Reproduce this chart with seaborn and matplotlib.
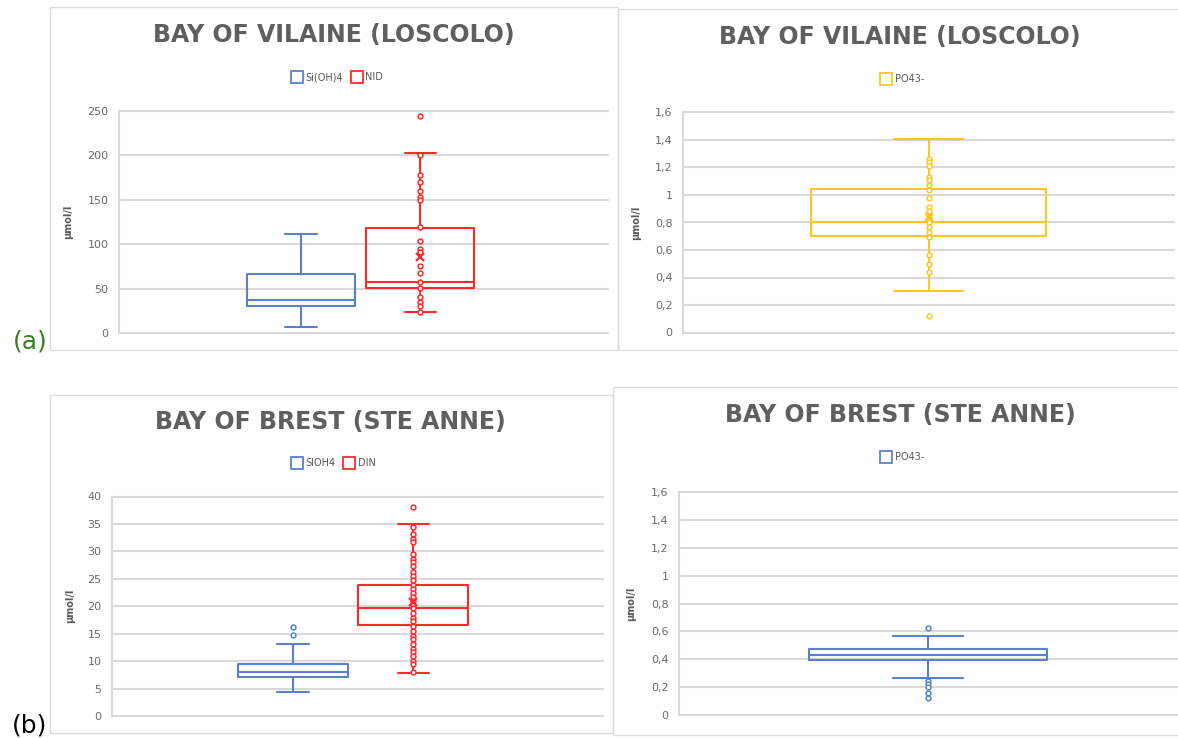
import matplotlib
matplotlib.use("Agg")
import matplotlib.pyplot as plt
import seaborn as sns
import numpy as np
import pandas as pd
from matplotlib.lines import Line2D
from matplotlib.patches import Rectangle

# ---------------- DATA ----------------
# five-number summaries: [lower whisker, Q1, median, Q3, upper whisker] (µmol/l)
titles = ["BAY OF VILAINE (LOSCOLO)", "BAY OF VILAINE (LOSCOLO)",
          "BAY OF BREST (STE ANNE)", "BAY OF BREST (STE ANNE)"]

vil_series = ["Si(OH)4", "NID"]
vil_si = [7, 30, 37, 66, 112]
vil_nid = [24, 51, 57, 118, 203]
vil_nid_mean = 86
vil_nid_outliers = [244]
vil_nid_points = [200, 178, 170, 160, 153, 150, 119, 104, 95, 91, 76, 68,
                  57, 51, 40, 35, 30, 24]

vil_po4_series = ["PO43-"]
vil_po4 = [0.30, 0.70, 0.80, 1.04, 1.41]
vil_po4_mean = 0.84
vil_po4_outliers = [0.12]
vil_po4_points = [1.26, 1.24, 1.21, 1.13, 1.11, 1.07, 1.035, 0.98, 0.91, 0.88,
                  0.85, 0.83, 0.80, 0.77, 0.73, 0.695, 0.56, 0.50, 0.44]

br_series = ["SIOH4", "DIN"]
br_si = [4.3, 7.1, 8.0, 9.5, 13.1]
br_si_outliers = [16.2, 14.7]
br_din = [7.9, 16.5, 19.7, 23.9, 34.9]
br_din_mean = 20.8
br_din_outliers = [38.1]
br_din_points = [34.5, 33.2, 32.3, 31.7, 29.6, 28.7, 28.1, 27.3, 26.3, 25.5,
                 24.8, 23.9, 23.1, 22.4, 21.7, 20.9, 20.3, 19.7, 18.8, 17.9,
                 17.3, 16.4, 15.5, 14.6, 14.0, 13.1, 12.3, 11.6, 10.9, 10.1,
                 9.5, 8.0]

br_po4_series = ["PO43-"]
br_po4 = [0.264, 0.393, 0.431, 0.474, 0.57]
br_po4_outliers = [0.623, 0.245, 0.22, 0.20, 0.155, 0.12]

ticks_250 = [0, 50, 100, 150, 200, 250]
ticks_16 = [0, 0.2, 0.4, 0.6, 0.8, 1.0, 1.2, 1.4, 1.6]
ticklabels_16 = ["0", "0,2", "0,4", "0,6", "0,8", "1", "1,2", "1,4", "1,6"]
ticks_40 = [0, 5, 10, 15, 20, 25, 30, 35, 40]
ylabel = "µmol/l"

# ---------------- STYLE ----------------
sns.set_theme(style="white")
plt.rcParams["font.family"] = ["DejaVu Sans"]

BLUE = "#5a80cc"
RED = "#ff2a2a"
YELLOW = "#ffc626"
GRID = "#d9d9d9"
TXT = "#595959"

W, H = 1178, 738
fig = plt.figure(figsize=(W / 100, H / 100), dpi=100)
fig.patch.set_facecolor("white")


def ax_at(l, t, r, b):
    return fig.add_axes([l / W, 1 - b / H, (r - l) / W, (b - t) / H])


def fxy(x, y):
    return (x / W, 1 - y / H)


def frame(l, t, r, b):
    fig.add_artist(Rectangle(fxy(l, b), (r - l) / W, (b - t) / H,
                             transform=fig.transFigure, fill=False,
                             edgecolor="#dcdcdc", lw=1.0))


def draw_box(ax, five, pos, width, color, mean=None, outliers=(), points=()):
    st = dict(whislo=five[0], q1=five[1], med=five[2], q3=five[3],
              whishi=five[4], fliers=[])
    if mean is not None:
        st["mean"] = mean
    lp = dict(color=color, lw=1.5)
    ax.bxp([st], positions=[pos], widths=[width], capwidths=[width * 0.29],
           showmeans=mean is not None, showfliers=False,
           boxprops=lp, whiskerprops=lp, capprops=lp, medianprops=lp,
           meanprops=dict(marker="x", markeredgecolor=color, markersize=6,
                          mew=1.6, zorder=6),
           manage_ticks=False)
    pts = list(points) + list(outliers)
    if pts:
        sns.scatterplot(x=[pos] * len(pts), y=pts, ax=ax, marker="o", s=12,
                        color="white", edgecolor=color, linewidth=1.1,
                        zorder=5, legend=False)


def style(ax, ylim, ticks, labels, label_x):
    ax.set_xlim(0, 1)
    ax.set_ylim(0, ylim)
    ax.set_yticks(ticks)
    ax.set_yticklabels(labels)
    ax.set_xticks([])
    ax.grid(axis="y", color=GRID, lw=1.5)
    ax.grid(axis="x", visible=False)
    ax.set_axisbelow(True)
    for g in ax.get_ygridlines():
        g.set_clip_on(False)
    for s in ["top", "right", "bottom"]:
        ax.spines[s].set_visible(False)
    ax.spines["left"].set_color(GRID)
    ax.spines["left"].set_linewidth(1.5)
    ax.tick_params(axis="y", length=0, pad=7.5, labelsize=8, labelcolor="#6a6a6a")
    ax.set_ylabel(ylabel, fontsize=7, fontweight="bold", color=TXT)
    ax.yaxis.set_label_coords(label_x, 0.5)
    ax.patch.set_alpha(0)


def legend(names, colors, cx, cy):
    handles = [Line2D([0], [0], marker="s", ls="none", mfc="white", mec=c,
                      ms=8.5, mew=1.3) for c in colors]
    fig.legend(handles, names, loc="center", bbox_to_anchor=fxy(cx, cy),
               ncol=len(names), frameon=False, fontsize=7, labelcolor=TXT,
               handlelength=1.0, handletextpad=0.4, columnspacing=0.9,
               borderpad=0)


def title(text, cx, cy):
    fig.text(*fxy(cx, cy), text, ha="center", va="center", fontsize=17,
             fontweight="bold", color="#5f5f5f")


# panel frames (screenshot composite)
frame(50, 7, 618, 350)
frame(618, 9.5, 1180, 350)
frame(50, 395, 613, 733)
frame(613, 387, 1180, 735)

fmt_int = [str(t) for t in ticks_250]
fmt_40 = [str(t) for t in ticks_40]

# ---- (a) left: Si(OH)4 & NID ----
ax1 = ax_at(119, 111, 608, 333)
draw_box(ax1, vil_si, 0.372, 0.221, BLUE)
draw_box(ax1, vil_nid, 0.616, 0.221, RED, mean=vil_nid_mean,
         outliers=vil_nid_outliers, points=vil_nid_points)
style(ax1, 250, ticks_250, fmt_int, -0.093)
title(titles[0], 333.5, 35)
legend(vil_series, [BLUE, RED], 337.5, 77)

# ---- (a) right: PO43- ----
ax2 = ax_at(683, 112.5, 1174, 332.5)
draw_box(ax2, vil_po4, 0.5, 0.478, YELLOW, mean=vil_po4_mean,
         outliers=vil_po4_outliers, points=vil_po4_points)
style(ax2, 1.6, ticks_16, ticklabels_16, -0.0855)
title(titles[1], 900, 37)
legend(vil_po4_series, [YELLOW], 903, 79)

# ---- (b) left: SIOH4 & DIN ----
ax3 = ax_at(112, 496.5, 603, 716)
draw_box(ax3, br_si, 0.369, 0.224, BLUE, outliers=br_si_outliers)
draw_box(ax3, br_din, 0.614, 0.224, RED, mean=br_din_mean,
         outliers=br_din_outliers, points=br_din_points)
style(ax3, 40, ticks_40, fmt_40, -0.075)
title(titles[2], 330.5, 421.7)
legend(br_series, [BLUE, RED], 334, 463)

# ---- (b) right: PO43- ----
ax4 = ax_at(679, 492.3, 1178, 715)
draw_box(ax4, br_po4, 0.499, 0.477, BLUE, outliers=br_po4_outliers)
style(ax4, 1.6, ticks_16, ticklabels_16, -0.086)
title(titles[3], 900, 415)
legend(br_po4_series, [BLUE], 903, 457)

# panel letters
fig.text(*fxy(30, 341.5), "(a)", ha="center", va="center", fontsize=18,
         color="#3a7d22")
fig.text(*fxy(30, 725), "(b)", ha="center", va="center", fontsize=18,
         color="black")

fig.savefig("out.png", dpi=100, facecolor="white")
